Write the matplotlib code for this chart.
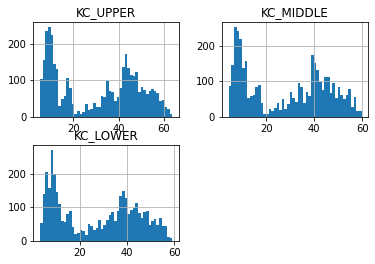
import numpy as np
import matplotlib
matplotlib.use("Agg")
import matplotlib.pyplot as plt

# bar heights (50 bins each)
kc_upper = [103, 156, 236, 247, 225, 145, 131, 29, 49, 57,
            107, 79, 35, 7, 16, 7, 13, 35, 18, 21,
            38, 27, 27, 57, 54, 98, 71, 68, 43, 54,
            79, 137, 171, 134, 115, 113, 123, 68, 82, 74,
            63, 71, 76, 71, 65, 43, 46, 27, 21, 7]
kc_middle = [86, 146, 253, 241, 219, 137, 157, 53, 58, 61,
             84, 89, 38, 8, 8, 22, 16, 24, 38, 19,
             50, 22, 36, 69, 53, 41, 95, 84, 39, 69,
             58, 174, 151, 131, 98, 75, 112, 112, 67, 95,
             53, 84, 61, 50, 61, 78, 27, 55, 16, 16]
kc_lower = [53, 141, 207, 159, 273, 201, 147, 111, 59, 56,
            80, 89, 41, 20, 23, 32, 29, 17, 50, 44,
            32, 38, 62, 36, 47, 61, 78, 86, 59, 89,
            135, 150, 129, 80, 92, 98, 114, 84, 68, 86,
            89, 47, 59, 65, 47, 68, 44, 44, 11, 8]

# value range covered by each column
ranges = {"KC_UPPER": (5.2, 63.7), "KC_MIDDLE": (4.4, 59.8), "KC_LOWER": (3.0, 59.1)}
columns = {"KC_UPPER": kc_upper, "KC_MIDDLE": kc_middle, "KC_LOWER": kc_lower}

fig = plt.figure(figsize=(375 / 72, 264 / 72), dpi=72)
positions = {
    "KC_UPPER":  [0.0888, 0.558, 0.3885, 0.3576],
    "KC_MIDDLE": [0.592, 0.558, 0.390, 0.3576],
    "KC_LOWER":  [0.0888, 0.0883, 0.3885, 0.3625],
}

for name, counts in columns.items():
    ax = fig.add_axes(positions[name])
    lo, hi = ranges[name]
    edges = np.linspace(lo, hi, len(counts) + 1)
    ax.hist(edges[:-1], bins=edges, weights=counts, color="C0")
    ax.set_title(name, fontsize=12)
    ax.grid(True)  # grid drawn over the bars, like pandas .hist()
    ax.tick_params(labelsize=10)

fig.savefig("out.png", dpi=72)
